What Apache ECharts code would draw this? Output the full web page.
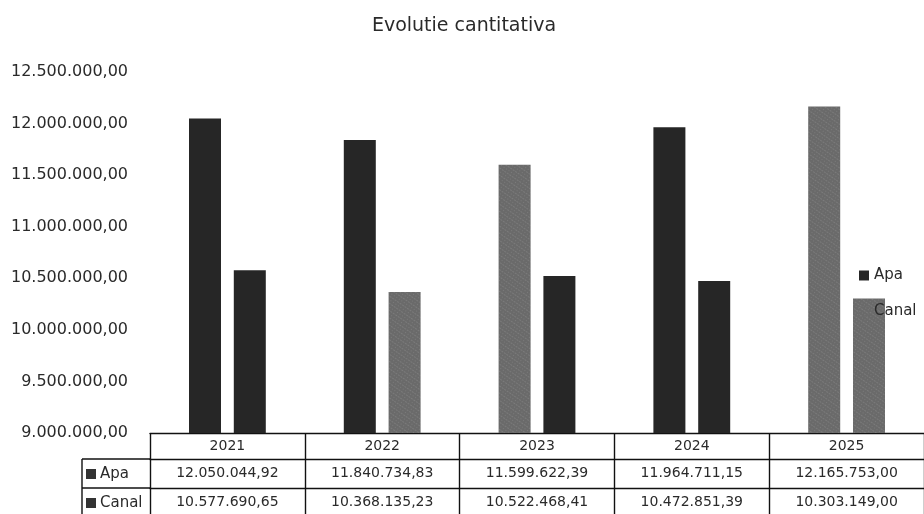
<!DOCTYPE html>
<html>
<head>
<meta charset="utf-8">
<script src="https://cdn.jsdelivr.net/npm/echarts@6/dist/echarts.min.js"></script>
<style>
html,body{margin:0;padding:0;background:#fff;}
#chart{width:924px;height:514px;}
</style>
</head>
<body>
<div id="chart"></div>
<script>
const categories = ['2021', '2022', '2023', '2024', '2025'];
const seriesNames = ['Apa', 'Canal'];
const apaValues = [12050044.92, 11840734.83, 11599622.39, 11964711.15, 12165753.00];
const canalValues = [10577690.65, 10368135.23, 10522468.41, 10472851.39, 10303149.00];
const yMin = 9000000, yMax = 12500000, yStep = 500000;
// which bars are printed with the speckled (grey) texture
const apaTextured = [false, false, true, false, true];
const canalTextured = [false, true, false, false, true];

const DARK = '#262626';
const GREY = '#6a6a6a';
const speckle = {
  symbol: 'rect', symbolSize: 0.6, color: 'rgba(230,230,230,0.45)',
  dashArrayX: [[1, 2], [2, 1]], dashArrayY: [1, 2], rotation: 0.6
};

function fmt(n) {
  const parts = n.toFixed(2).split('.');
  return parts[0].replace(/\B(?=(\d{3})+(?!\d))/g, '.') + ',' + parts[1];
}
function barData(vals, textured) {
  return vals.map((v, i) => ({
    value: v,
    itemStyle: textured[i] ? { color: GREY, decal: speckle } : { color: DARK }
  }));
}

const FONT = '"DejaVu Sans", "Open Sans", sans-serif';
const TEXT = '#2a2a2a';
const lineStyle = { color: '#111', width: 1.4 };

const chart = echarts.init(document.getElementById('chart'), null, { renderer: 'canvas' });
chart.setOption({
  animation: false,
  backgroundColor: '#fff',
  textStyle: { fontFamily: FONT },
  title: {
    text: 'Evolutie cantitativa', left: 459, textAlign: 'center', top: 12,
    textStyle: { fontSize: 19, fontWeight: 'normal', color: TEXT, fontFamily: FONT }
  },
  legend: {
    data: [
      { name: seriesNames[0], itemStyle: { color: DARK } },
      { name: seriesNames[1], itemStyle: { color: GREY, decal: speckle } }
    ],
    orient: 'vertical', left: 854, top: 263,
    itemWidth: 10, itemHeight: 10, itemGap: 21, icon: 'rect',
    textStyle: { fontSize: 15, color: TEXT, fontFamily: FONT }
  },
  grid: { left: 150, top: 72, width: 783, height: 361 },
  xAxis: [
    {
      type: 'category', data: categories, position: 'bottom',
      axisLine: { show: true, lineStyle },
      axisTick: { show: true, length: 26, lineStyle },
      axisLabel: { margin: 6, fontSize: 14, color: TEXT, fontFamily: FONT }
    },
    {
      type: 'category', data: apaValues.map(fmt), position: 'bottom', offset: 26,
      axisLine: { show: true, lineStyle },
      axisTick: { show: true, length: 29, lineStyle },
      axisLabel: { margin: 7, fontSize: 14, color: TEXT, fontFamily: FONT }
    },
    {
      type: 'category', data: canalValues.map(fmt), position: 'bottom', offset: 55,
      axisLine: { show: true, lineStyle },
      axisTick: { show: true, length: 30, lineStyle },
      axisLabel: { margin: 7, fontSize: 14, color: TEXT, fontFamily: FONT }
    }
  ],
  yAxis: {
    type: 'value', min: yMin, max: yMax, interval: yStep,
    axisLine: { show: false }, axisTick: { show: false },
    splitLine: { show: false },
    axisLabel: { margin: 22, fontSize: 16, color: TEXT, fontFamily: FONT, formatter: v => fmt(v) }
  },
  series: [
    {
      name: 'Apa', type: 'bar', xAxisIndex: 0, barWidth: 32, barGap: '40%',
      itemStyle: { color: DARK },
      data: barData(apaValues, apaTextured)
    },
    {
      name: 'Canal', type: 'bar', xAxisIndex: 0, barWidth: 32,
      itemStyle: { color: DARK },
      data: barData(canalValues, canalTextured)
    }
  ],
  graphic: [
    { type: 'line', shape: { x1: 82, y1: 459, x2: 150, y2: 459 }, style: { stroke: '#111', lineWidth: 1.4 } },
    { type: 'line', shape: { x1: 82, y1: 488, x2: 150, y2: 488 }, style: { stroke: '#111', lineWidth: 1.4 } },
    { type: 'line', shape: { x1: 82, y1: 459, x2: 82, y2: 514 }, style: { stroke: '#111', lineWidth: 1.4 } },
    { type: 'rect', shape: { x: 86, y: 469, width: 10, height: 10 }, style: { fill: '#333' } },
    { type: 'text', x: 100, y: 474, style: { text: seriesNames[0], fontSize: 15, fill: TEXT, fontFamily: FONT, verticalAlign: 'middle' } },
    { type: 'rect', shape: { x: 86, y: 498, width: 10, height: 10 }, style: { fill: '#333' } },
    { type: 'text', x: 100, y: 503, style: { text: seriesNames[1], fontSize: 15, fill: TEXT, fontFamily: FONT, verticalAlign: 'middle' } }
  ]
});
</script>
</body>
</html>
